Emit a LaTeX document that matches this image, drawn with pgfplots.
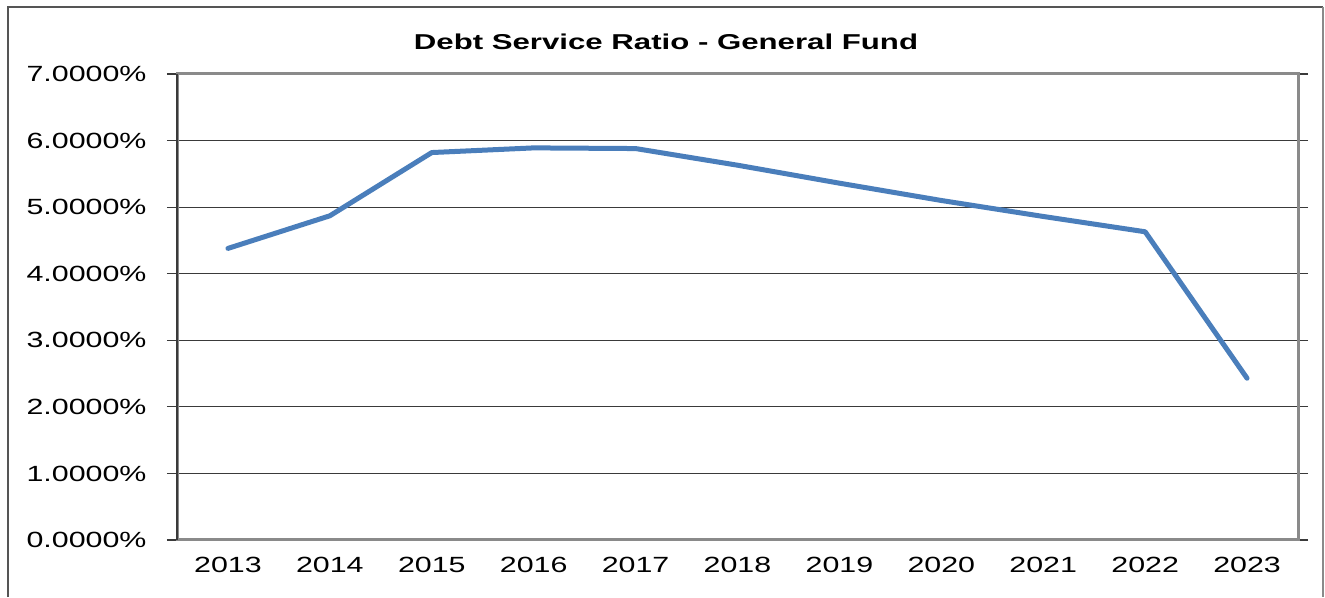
\documentclass[border=0pt]{standalone}
\usepackage{fontspec}
\setmainfont[FakeStretch=1.38]{Liberation Sans}
\newfontfamily\titlefont[FakeStretch=1.45]{Liberation Sans}
\usepackage{pgfplots}
\pgfplotsset{compat=1.18}
\definecolor{linecol}{HTML}{4A7EBB}
\definecolor{framegray}{HTML}{555555}
\definecolor{boxgray}{HTML}{8A8A8A}
\definecolor{gridgray}{HTML}{3A3A3A}
\begin{document}
\begin{tikzpicture}[x=1pt,y=1pt]
\path[use as bounding box] (0,0) rectangle (1325,597);
% chart frame
\draw[framegray, line width=1.6pt] (8,0) -- (8,590) -- (1323,590);
\draw[boxgray, line width=1.2pt] (1323,590) -- (1323,0);
\node[font=\titlefont\bfseries\fontsize{21.5}{25}\selectfont] at (666,555) {Debt Service Ratio - General Fund};
\begin{axis}[
  at={(177pt,57pt)}, anchor=south west,
  width=1121pt, height=466pt, scale only axis,
  xmin=-0.5, xmax=10.5, ymin=0, ymax=7,
  xtick={0,...,10},
  xticklabels={2013,2014,2015,2016,2017,2018,2019,2020,2021,2022,2023},
  major x tick style={draw=none},
  extra x ticks={-0.5,0.5,...,10.5},
  extra x tick labels={},
  extra x tick style={major tick length=10pt, tick style={draw=gridgray, line width=1.2pt}},
  ytick={0,1,...,7},
  yticklabel={\pgfmathprintnumber[fixed,fixed zerofill,precision=4]{\tick}\%},
  /pgf/number format/assume math mode=true,
  tick align=outside,
  major tick length=10pt,
  ytick style={draw=gridgray, line width=1.2pt},
  ymajorgrids,
  grid style={gridgray, line width=1.2pt},
  axis line style={boxgray, line width=3pt},
  tick label style={font=\fontsize{22}{26}\selectfont},
  xticklabel style={yshift=-4pt},
  yticklabel style={xshift=-17pt},
  clip=false,
]
\addplot[linecol, line width=5pt, line join=round, line cap=round] coordinates {
 (0,4.38) (1,4.87) (2,5.82) (3,5.89) (4,5.88) (5,5.63) (6,5.36) (7,5.10) (8,4.86) (9,4.63) (10,2.43)
};
\draw[gridgray, line width=2.2pt] (rel axis cs:0,0) -- (rel axis cs:0,1);
\end{axis}
\end{tikzpicture}
\end{document}
